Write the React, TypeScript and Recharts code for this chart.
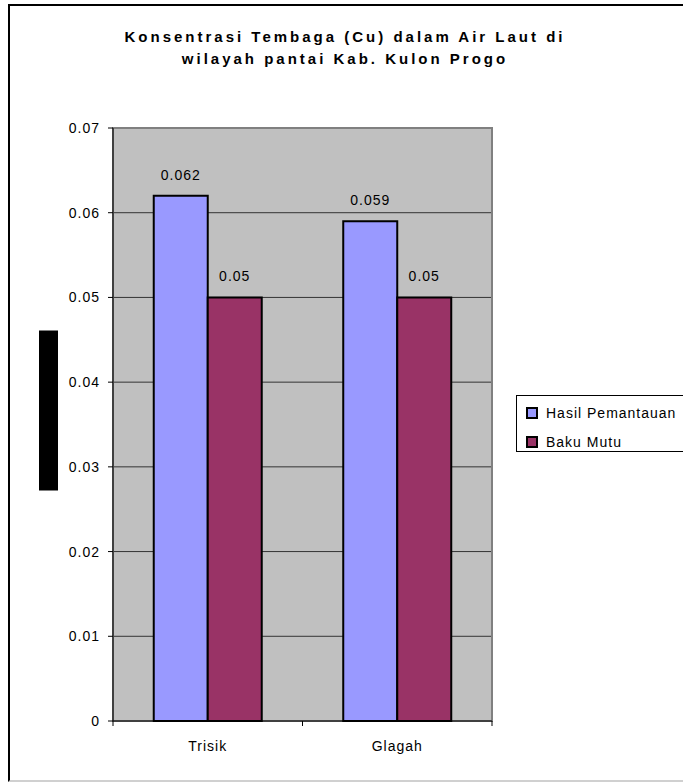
import React from "react";
import {
  Bar,
  BarChart,
  CartesianGrid,
  Label,
  LabelList,
  Legend,
  ReferenceArea,
  XAxis,
  YAxis,
} from "recharts";

const lokasi = ["Trisik", "Glagah"];
const hasilPemantauan = [0.062, 0.059];
const bakuMutu = [0.05, 0.05];
const yTicks = [0, 0.01, 0.02, 0.03, 0.04, 0.05, 0.06, 0.07];

const data = lokasi.map((name, i) => ({
  name,
  hasil: hasilPemantauan[i],
  baku: bakuMutu[i],
}));

const seriesOrder = ["hasil", "baku"];

const FONT = '"Liberation Sans", Arial, sans-serif';

// category label centred, with tick marks on both edges of the band
const LokasiTick = (props: any) => {
  const { x, y, payload } = props;
  const half = payload?.offset ?? 0;
  return (
    <g>
      <line x1={x - half} y1={y} x2={x - half} y2={y + 5} stroke="#000" />
      <line x1={x + half} y1={y} x2={x + half} y2={y + 5} stroke="#000" />
      <text
        x={x}
        y={y + 20}
        dy="0.71em"
        textAnchor="middle"
        fontSize={14}
        letterSpacing={1}
        fill="#000"
      >
        {payload.value}
      </text>
    </g>
  );
};

const AxisBlock = ({ viewBox }: any) => {
  if (!viewBox) return null;
  const cy = viewBox.y + viewBox.height / 2 - 14;
  return <rect x={viewBox.x - 21} y={cy - 80} width={19} height={160} fill="#000" />;
};

const LegendBox = ({ payload }: any) => {
  const items = [...(payload || [])].sort(
    (a: any, b: any) => seriesOrder.indexOf(a.dataKey) - seriesOrder.indexOf(b.dataKey)
  );
  return (
    <div
      style={{
        border: "1px solid #000",
        height: 57,
        boxSizing: "border-box",
        padding: "2px 0 0 9px",
        background: "#fff",
        fontFamily: FONT,
      }}
    >
      {items.map((item: any) => (
        <div key={item.value} style={{ display: "flex", alignItems: "center", height: 29 }}>
          <span
            style={{
              width: 8,
              height: 8,
              border: "2px solid #000",
              background: item.color,
              marginRight: 8,
            }}
          />
          <span style={{ fontSize: 14, letterSpacing: 1, color: "#000" }}>{item.value}</span>
        </div>
      ))}
    </div>
  );
};

export default function App() {
  return (
    <div
      style={{
        position: "absolute",
        left: 0,
        top: 0,
        width: 683,
        height: 783,
        overflow: "hidden",
        background: "#fff",
        fontFamily: FONT,
      }}
    >
      <div
        style={{
          position: "absolute",
          left: 8,
          top: 4,
          width: 700,
          height: 778,
          boxSizing: "border-box",
          borderLeft: "2px solid #000",
          borderTop: "2px solid #000",
          borderBottom: "2px solid #d0d0d0",
        }}
      />
      <div
        style={{
          position: "absolute",
          left: 0,
          top: 26,
          width: 690,
          textAlign: "center",
          fontWeight: "bold",
          fontSize: 15,
          lineHeight: "21.5px",
          letterSpacing: 3,
          color: "#000",
        }}
      >
        Konsentrasi Tembaga (Cu) dalam Air Laut di
        <br />
        wilayah pantai Kab. Kulon Progo
      </div>
      <BarChart
        width={683}
        height={783}
        data={data}
        margin={{ top: 128, right: 191, left: 60, bottom: 32 }}
        barCategoryGap="21.5%"
        barGap={0}
        style={{ fontFamily: FONT }}
      >
        <CartesianGrid vertical={false} stroke="#333" fill="#C0C0C0" fillOpacity={1} />
        <ReferenceArea y1={0} y2={0.07} fill="none" stroke="#808080" strokeWidth={2} />
        <XAxis
          dataKey="name"
          height={30}
          tickLine={false}
          tickSize={0}
          tickMargin={0}
          axisLine={{ stroke: "#000" }}
          tick={<LokasiTick />}
        />
        <YAxis
          width={53}
          domain={[0, 0.07]}
          ticks={yTicks}
          interval={0}
          tickSize={5}
          tickMargin={8}
          axisLine={{ stroke: "#000" }}
          tickLine={{ stroke: "#000" }}
          tick={{ fontSize: 14, fill: "#000", letterSpacing: 1 }}
        >
          <Label content={AxisBlock} />
        </YAxis>
        <Legend
          layout="vertical"
          align="center"
          verticalAlign="middle"
          content={LegendBox}
          wrapperStyle={{ position: "absolute", left: 516, top: 395, width: 190 }}
        />
        <Bar
          dataKey="hasil"
          name="Hasil Pemantauan"
          fill="#9999FF"
          stroke="#000"
          strokeWidth={2}
          isAnimationActive={false}
        >
          <LabelList dataKey="hasil" position="top" offset={16} fontSize={14} fill="#000" letterSpacing={1} />
        </Bar>
        <Bar
          dataKey="baku"
          name="Baku Mutu"
          fill="#993366"
          stroke="#000"
          strokeWidth={2}
          isAnimationActive={false}
        >
          <LabelList dataKey="baku" position="top" offset={16} fontSize={14} fill="#000" letterSpacing={1} />
        </Bar>
      </BarChart>
    </div>
  );
}
